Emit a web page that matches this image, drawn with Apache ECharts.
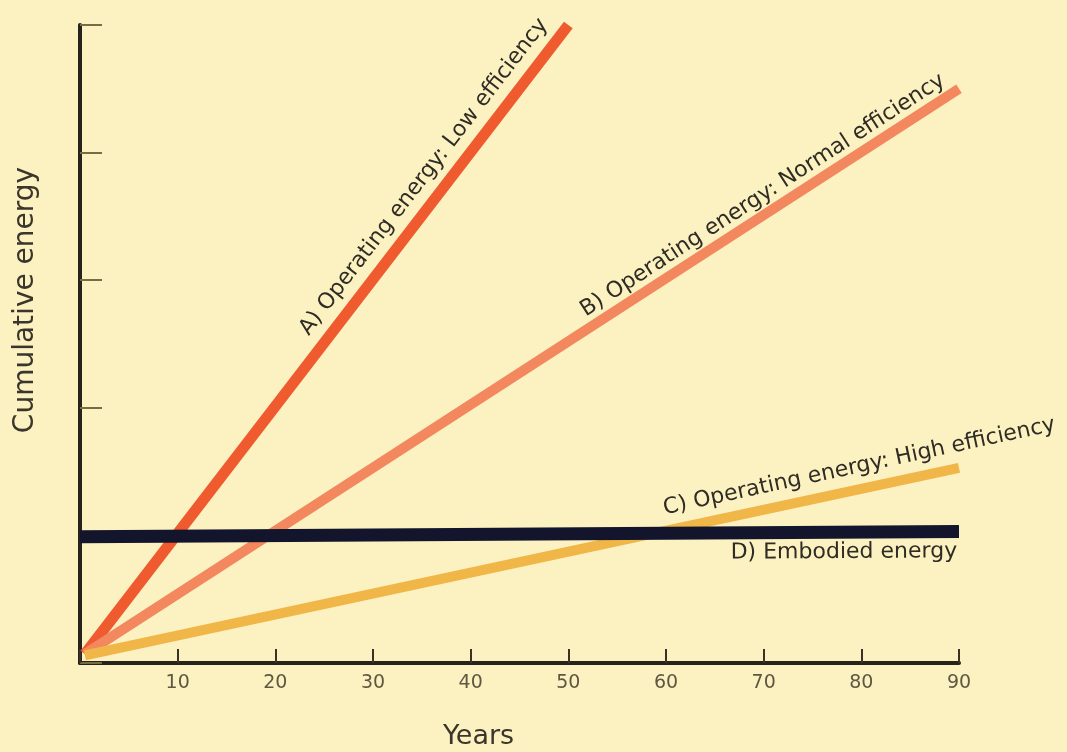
<!DOCTYPE html>
<html>
<head>
<meta charset="utf-8">
<script src="https://cdn.jsdelivr.net/npm/echarts@6/dist/echarts.min.js"></script>
<style>
  html, body { margin: 0; padding: 0; background: #fcf1c0; }
  #chart { width: 1067px; height: 752px; }
</style>
</head>
<body>
<div id="chart"></div>
<script>
// 数据：各条线的起点和终点 (年, 累计能耗)
const lowEffX = [0.5, 50];
const lowEffY = [0.07, 5.0];
const normalEffX = [0.5, 90];
const normalEffY = [0.07, 4.5];
const highEffX = [0.5, 90];
const highEffY = [0.06, 1.53];
const embodiedX = [0, 90];
const embodiedY = [0.99, 1.03];

const labelA = 'A) Operating energy: Low efficiency';
const labelB = 'B) Operating energy: Normal efficiency';
const labelC = 'C) Operating energy: High efficiency';
const labelD = 'D) Embodied energy';

const xTicks = [10, 20, 30, 40, 50, 60, 70, 80, 90];

const chart = echarts.init(document.getElementById('chart'));

const toPoints = (xs, ys) => xs.map((x, i) => [x, ys[i]]);

// 用透明的 markLine 放沿线旋转的文字
function lineLabel(xs, ys, text, position, distance) {
    const n = xs.length - 1;
    return {
        silent: true,
        symbol: 'none',
        lineStyle: { width: 0, opacity: 0 },
        label: {
            show: true,
            position: position,
            distance: distance,
            formatter: text,
            opacity: 1,
            color: '#2f2b25',
            fontFamily: 'DejaVu Sans',
            fontSize: 22
        },
        data: [[{ coord: [xs[0], ys[0]] }, { coord: [xs[n], ys[n]] }]]
    };
}

function makeSeries(name, xs, ys, color, width, markLine) {
    return {
        name: name,
        type: 'line',
        data: toPoints(xs, ys),
        symbol: 'none',
        silent: true,
        lineStyle: { color: color, width: width },
        markLine: markLine
    };
}

const option = {
    backgroundColor: '#fcf1c0',
    animation: false,
    grid: { left: 80, right: 108, top: 25, bottom: 89, outerBoundsMode: 'none' },
    xAxis: {
        type: 'value',
        min: 0, max: 90, interval: 10,
        name: 'Years',
        nameLocation: 'middle',
        nameGap: 60,
        nameTextStyle: {
            color: '#3b362c', fontFamily: 'DejaVu Sans', fontSize: 27,
            padding: [0, 82, 0, 0]
        },
        axisLine: { show: true, lineStyle: { color: '#26231c', width: 4 } },
        axisTick: { show: true, inside: true, length: 14, lineStyle: { color: '#3a3325', width: 2 } },
        axisLabel: {
            margin: 11,
            color: '#5f5742',
            fontFamily: 'DejaVu Sans',
            fontSize: 19,
            formatter: v => xTicks.includes(v) ? String(v) : ''
        },
        splitLine: { show: false }
    },
    yAxis: {
        type: 'value',
        min: 0, max: 5, interval: 1,
        name: 'Cumulative energy',
        nameLocation: 'middle',
        nameRotate: 90,
        nameGap: 40,
        nameTextStyle: {
            color: '#3b362c', fontFamily: 'DejaVu Sans', fontSize: 28,
            padding: [0, 0, 0, 88]
        },
        axisLine: { show: true, lineStyle: { color: '#26231c', width: 4 } },
        axisTick: { show: true, inside: true, length: 22, lineStyle: { color: '#7a6a45', width: 2 } },
        axisLabel: { show: false },
        splitLine: { show: false }
    },
    series: [
        makeSeries('A', lowEffX, lowEffY, '#ef5a2e', 11,
            lineLabel(lowEffX, lowEffY, labelA, 'insideEndTop', [12, 11])),
        makeSeries('B', normalEffX, normalEffY, '#f3875e', 10,
            lineLabel(normalEffX, normalEffY, labelB, 'insideEndTop', [8, 6])),
        makeSeries('C', highEffX, highEffY, '#f1b648', 10,
            lineLabel(highEffX, highEffY, labelC, 'insideEndTop', [-103, 11])),
        makeSeries('D', embodiedX, embodiedY, '#12152c', 13,
            lineLabel(embodiedX, embodiedY, labelD, 'insideEndBottom', [2, 9]))
    ]
};

chart.setOption(option);

window.addEventListener('resize', () => chart.resize());
</script>
</body>
</html>
